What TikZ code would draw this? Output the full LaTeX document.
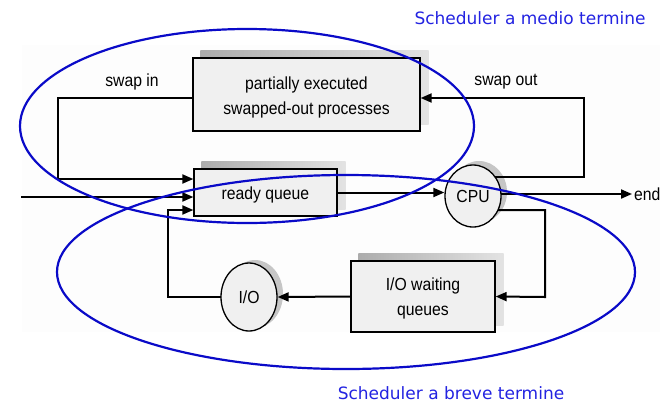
\documentclass[tikz,border=0pt]{standalone}
\usepackage{fontspec}
\setmainfont[FakeStretch=0.9]{Liberation Sans}
\newfontfamily\bluefont{DejaVu Sans}
\usetikzlibrary{arrows.meta,calc,shapes.geometric}
\definecolor{bluec}{RGB}{10,10,200}
\definecolor{bluet}{RGB}{35,35,225}
\pgfdeclarelayer{bgl}
\pgfdeclarelayer{shd}
\pgfdeclarelayer{ln}
\pgfsetlayers{bgl,shd,ln,main}
\begin{document}
\begin{tikzpicture}[x=1pt,y=-1pt,
  box/.style={draw=black,line width=1.3pt,fill=gray!12,rectangle,inner sep=0pt},
  roundnode/.style={draw=black,line width=1.3pt,fill=gray!12,ellipse,inner sep=0pt,
    font=\fontsize{17.5}{24}\selectfont},
  conn/.style={line width=2pt},
  arr/.style={conn,-{Triangle[length=11pt,width=9pt]}},
  blueell/.style={draw=bluec,line width=2.2pt},
  lab/.style={font=\fontsize{17.5}{25}\selectfont,align=center,inner sep=0pt},
  bluetxt/.style={text=bluet,font=\bluefont\fontsize{17}{20}\selectfont},
  boxshadow/.style={left color=gray!65,right color=gray!22},
  roundshadow/.style={fill=gray!45}]
\useasboundingbox (0,0) rectangle (666,405);

% nodes
\node[box,minimum width=227pt,minimum height=73pt] (box1) at (306.5,94.5) {};
\node[box,minimum width=143pt,minimum height=47pt] (rq) at (265.5,192.5) {};
\node[box,minimum width=144pt,minimum height=71pt] (iow) at (423,296.5) {};
\node[roundnode,minimum width=56pt,minimum height=62pt] (cpu) at (473,196) {CPU};
\node[roundnode,minimum width=56pt,minimum height=68pt] (io) at (249,297) {I/O};

\node[lab] (t1) at ([yshift=-3pt]box1.center) {partially executed\\swapped-out processes};
\node[lab] (t2) at ([yshift=-2pt]rq.center) {ready queue};
\node[lab] (t3) at ([yshift=-2pt]iow.center) {I/O waiting\\queues};

\node[lab] (swin) at (132,82) {swap in};
\node[lab] (swout) at (506,82) {swap out};
\node[lab,anchor=west,inner sep=2pt] (endl) at (632,194) {end};

\node[bluetxt] (tm) at (530,18) {Scheduler a medio termine};
\node[bluetxt] (tb) at (451,393) {Scheduler a breve termine};

% background
\begin{pgfonlayer}{bgl}
  \fill[gray!1.2] (22,45) rectangle (660,332);
\end{pgfonlayer}

% shadows
\begin{pgfonlayer}{shd}
  \shade[boxshadow] ($(box1.north west)+(8,-7)$) rectangle ($(box1.south east)+(8,-7)$);
  \shade[boxshadow] ($(rq.north west)+(8,-7)$) rectangle ($(rq.south east)+(8,-7)$);
  \shade[boxshadow] ($(iow.north west)+(8,-7)$) rectangle ($(iow.south east)+(8,-7)$);
  \fill[roundshadow] ($(cpu.center)+(6,-4)$) ellipse [x radius=28pt, y radius=31pt];
  \fill[roundshadow] ($(io.center)+(6,-3)$) ellipse [x radius=28pt, y radius=34pt];
\end{pgfonlayer}

% connectors
\coordinate (inl) at (21,197);
\coordinate (sor) at (584,98);
\coordinate (cw) at (545,297);
\coordinate (ci) at (168,297);
\coordinate (sil) at (58,98);
\begin{pgfonlayer}{ln}
  \draw[arr] ([yshift=-3.5pt]box1.west) -- (sil) |- ([yshift=13.5pt]rq.west);
  \draw[arr] (inl) -- ([yshift=-4.5pt]rq.west);
  \draw[arr] (rq.east) -- (rq.east -| cpu.west);
  \draw[arr] ([yshift=19pt]cpu.center) -| (sor) -- ([yshift=-3.5pt]box1.east);
  \draw[arr] ([yshift=2pt]cpu.center) -- (endl.west);
  \draw[arr] ([yshift=-14pt]cpu.center) -| (cw) -- (iow.east);
  \draw[arr] (iow.west) -- (io.east);
  \draw[arr] (io.center) -- (ci) |- ([yshift=-17.5pt]rq.west);
\end{pgfonlayer}

% blue ellipses
\draw[blueell] (247,126) ellipse [x radius=227pt, y radius=97pt];
\draw[blueell] (346,272) ellipse [x radius=289pt, y radius=97pt];
\end{tikzpicture}
\end{document}
